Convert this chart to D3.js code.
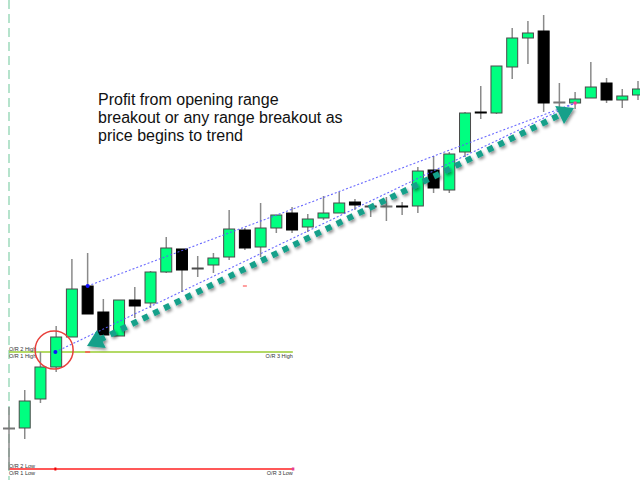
<!DOCTYPE html>
<html>
<head>
<meta charset="utf-8">
<script src="https://cdn.jsdelivr.net/npm/d3@7"></script>
<style>
  html, body { margin: 0; padding: 0; background: #fff; }
  svg { display: block; }
</style>
</head>
<body>
<svg id="chart" width="640" height="480"></svg>
<script>
// ---- data (price units) ----
const opens  = [52,52,81,113,143,194,168,144,180,177,208,231,211,215,223,250,233,252,267,253,262,267,278,273,274,274,274,310,290,328,368,367,413,442,449,378,377,382,397,380,385];
const highs  = [73,90,128,154,221,227,181,180,193,209,243,231,224,227,270,252,277,265,273,266,284,288,281,275,283,278,313,324,328,368,394,414,452,459,465,397,388,418,402,391,399];
const lows   = [10,41,77,108,143,166,145,144,162,172,207,188,203,207,220,230,223,247,247,248,260,267,270,263,259,265,267,287,287,323,361,366,401,416,368,370,371,382,377,372,380];
const closes = [52,79,113,143,191,166,145,180,174,208,232,210,212,222,251,232,252,265,250,261,267,277,275,274,274,273,309,292,326,367,367,414,442,447,377,378,381,393,380,384,391];

// opening-range levels
const orHigh = 128, orLow = 11;
const orLabelsHigh = ["O/R 2 High", "O/R 1 High", "O/R 3 High"];
const orLabelsLow  = ["O/R 2 Low", "O/R 1 Low", "O/R 3 Low"];
const orEndIndex = 18.05;

// trend channel lines [index, price]
const upperLine = [[5, 194], [36, 377]];
const lowerLine = [[2.95, 128], [36, 377]];
// teal trend arrow tips [index, price]
const arrowPts = [[4.96, 134], [35.93, 372]];

const noteLines = ["Profit from opening range", "breakout or any range breakout as", "price begins to trend"];

// ---- scales ----
const W = 640, H = 480;
const x = d3.scaleLinear().domain([0, 40]).range([9, 638]);
const y = d3.scaleLinear().domain([0, 480]).range([480, 0]);
const svg = d3.select("#chart");

const defs = svg.append("defs");
const f = defs.append("filter").attr("id", "sh").attr("x", "-20%").attr("y", "-20%").attr("width", "140%").attr("height", "140%");
f.append("feDropShadow").attr("dx", 1.5).attr("dy", 2).attr("stdDeviation", 1.4).attr("flood-color", "#000").attr("flood-opacity", 0.45);

// mint dashed vertical session line
svg.append("line").attr("x1", x(0)).attr("x2", x(0)).attr("y1", 0).attr("y2", H)
  .attr("stroke", "#b5e3cc").attr("stroke-width", 2).attr("stroke-dasharray", "9,5");

// opening range lines
svg.append("line").attr("x1", x(0)).attr("x2", x(orEndIndex)).attr("y1", y(orHigh)).attr("y2", y(orHigh))
  .attr("stroke", "#9acd32").attr("stroke-width", 1.5);
svg.append("line").attr("x1", x(0)).attr("x2", x(orEndIndex)).attr("y1", y(orLow)).attr("y2", y(orLow))
  .attr("stroke", "#ff2020").attr("stroke-width", 1.5);

const small = { "font-family": "Liberation Sans, Arial, sans-serif", "font-size": "5.5px", fill: "#333" };
function lbl(t, xx, yy, anchor) {
  const e = svg.append("text").attr("x", xx).attr("y", yy).text(t).attr("text-anchor", anchor || "start");
  Object.entries(small).forEach(([k, v]) => e.attr(k, v));
}
lbl(orLabelsHigh[0], x(0), y(orHigh) - 1.5);
lbl(orLabelsHigh[1], x(0), y(orHigh) + 5.5);
lbl(orLabelsHigh[2], x(orEndIndex), y(orHigh) + 5.5, "end");
lbl(orLabelsLow[0], x(0), y(orLow) - 1.5);
lbl(orLabelsLow[1], x(0), y(orLow) + 6);
lbl(orLabelsLow[2], x(orEndIndex), y(orLow) + 6, "end");

// small markers
svg.append("rect").attr("x", x(2.95) - 1).attr("y", y(orLow) - 1.5).attr("width", 2).attr("height", 3).attr("fill", "#e00");
svg.append("rect").attr("x", x(orEndIndex) - 1).attr("y", y(orLow) - 1.5).attr("width", 2.5).attr("height", 3).attr("fill", "#e0409a");
svg.append("rect").attr("x", x(5) - 2.5).attr("y", y(orHigh) - 0.75).attr("width", 5).attr("height", 1.5).attr("fill", "#ff5050");
svg.append("rect").attr("x", x(15) - 2).attr("y", y(194) - 0.75).attr("width", 4).attr("height", 1.5).attr("fill", "#ff8080");
svg.append("rect").attr("x", x(3.3) - 1).attr("y", y(120) - 1).attr("width", 2).attr("height", 2).attr("fill", "#e04040");

// candles
const idx = d3.range(opens.length);
const bw = 11;
const g = svg.append("g");
g.selectAll("line.wick").data(idx).join("line")
  .attr("x1", i => x(i)).attr("x2", i => x(i))
  .attr("y1", i => y(highs[i])).attr("y2", i => y(lows[i]))
  .attr("stroke", "#8a8a8a").attr("stroke-width", 1.5);
g.selectAll("rect.body").data(idx).join("rect")
  .attr("x", i => x(i) - bw / 2)
  .attr("y", i => y(Math.max(opens[i], closes[i])))
  .attr("width", bw)
  .attr("height", i => Math.max(1, Math.abs(y(opens[i]) - y(closes[i]))))
  .attr("fill", i => closes[i] > opens[i] ? "#00ff80" : (closes[i] < opens[i] ? "#000" : "#777"))
  .attr("stroke", i => closes[i] > opens[i] ? "#4a4a4a" : (closes[i] < opens[i] ? "#000" : "#777"))
  .attr("stroke-width", 1);

// blue dotted channel lines
[upperLine, lowerLine].forEach(l => {
  svg.append("line").attr("x1", x(l[0][0])).attr("y1", y(l[0][1])).attr("x2", x(l[1][0])).attr("y2", y(l[1][1]))
    .attr("stroke", "#5a5aff").attr("stroke-width", 1.1).attr("stroke-dasharray", "2,2").attr("opacity", 0.9);
});
svg.append("circle").attr("cx", x(upperLine[0][0])).attr("cy", y(upperLine[0][1])).attr("r", 2).attr("fill", "#1010ff");
svg.append("circle").attr("cx", x(lowerLine[0][0])).attr("cy", y(lowerLine[0][1])).attr("r", 2).attr("fill", "#1010ff");
svg.append("rect").attr("x", x(36) - 1.5).attr("y", y(377) - 1.5).attr("width", 3).attr("height", 3).attr("fill", "#ff3ca0");

// red highlight circle
svg.append("circle").attr("cx", x(2.87)).attr("cy", y(130)).attr("r", 19)
  .attr("fill", "none").attr("stroke", "#e8413c").attr("stroke-width", 1.5);

// teal dotted arrow
const p0 = [x(arrowPts[0][0]), y(arrowPts[0][1])], p1 = [x(arrowPts[1][0]), y(arrowPts[1][1])];
const dx = p1[0] - p0[0], dy = p1[1] - p0[1], len = Math.hypot(dx, dy);
const ux = dx / len, uy = dy / len, nx = -uy, ny = ux;
const hl = 16, hw = 10;
const ag = svg.append("g").attr("filter", "url(#sh)");
ag.append("line")
  .attr("x1", p0[0] + ux * (hl - 2)).attr("y1", p0[1] + uy * (hl - 2))
  .attr("x2", p1[0] - ux * (hl - 2)).attr("y2", p1[1] - uy * (hl - 2))
  .attr("stroke", "#14a08a").attr("stroke-width", 6).attr("stroke-dasharray", "6,6");
function head(tip, dir) {
  const bx = tip[0] + dir * ux * hl, by = tip[1] + dir * uy * hl;
  ag.append("polygon").attr("points", [[tip[0], tip[1]], [bx + nx * hw, by + ny * hw], [bx - nx * hw, by - ny * hw]].map(p => p.join(",")).join(" "))
    .attr("fill", "#14a08a");
}
head(p0, 1);
head(p1, -1);

// annotation text
const t = svg.append("text").attr("x", 98).attr("font-family", "Liberation Sans, Arial, sans-serif")
  .attr("font-size", "16px").attr("fill", "#111");
noteLines.forEach((s, i) => t.append("tspan").attr("x", 98).attr("y", 105 + i * 18).text(s));
</script>
</body>
</html>
